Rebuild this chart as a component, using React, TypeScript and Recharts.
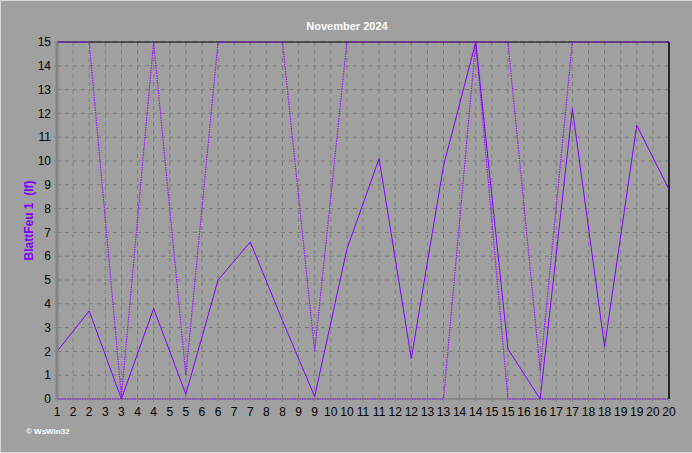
import { LineChart, Line, XAxis, YAxis, CartesianGrid, ReferenceLine } from 'recharts'

const days = [1, 2, 3, 4, 5, 6, 7, 8, 9, 10, 11, 12, 13, 14, 15, 16, 17, 18, 19, 20]
const leafWet = [2.0, 3.7, 0.0, 3.8, 0.2, 5.0, 6.6, 3.3, 0.1, 6.3, 10.1, 1.7, 9.8, 15.0, 2.1, 0.0, 12.2, 2.2, 11.5, 8.8]
const leafWetMax = [15, 15, 0.1, 15, 1.0, 15, 15, 15, 2.0, 15, 15, 15, 15, 15, 15, 1.2, 15, 15, 15, 15]
const leafWetMin = [0, 0, 0, 0, 0, 0, 0, 0, 0, 0, 0, 0, 0, 15, 0, 0, 0, 0, 0, 0]

const xTicks = [
  1, 1.5, 2, 2.5, 3, 3.5, 4, 4.5, 5, 5.5, 6, 6.5, 7, 7.5, 8, 8.5, 9, 9.5, 10, 10.5,
  11, 11.5, 12, 12.5, 13, 13.5, 14, 14.5, 15, 15.5, 16, 16.5, 17, 17.5, 18, 18.5, 19, 19.5, 20,
]
const yTicks = [0, 1, 2, 3, 4, 5, 6, 7, 8, 9, 10, 11, 12, 13, 14, 15]

const title = 'November 2024'
const yLabel = 'BlattFeu 1\u00a0\u00a0(lf)'

const rows = days.map((d, i) => ({
  day: d,
  wet: leafWet[i],
  max: leafWetMax[i],
  min: leafWetMin[i],
}))

const font = '"Liberation Sans", Arial, sans-serif'

export default function App() {
  return (
    <div
      style={{
        position: 'absolute',
        left: 0,
        top: 0,
        width: 692,
        height: 453,
        background: '#a0a0a0',
        boxSizing: 'border-box',
        borderTop: '1px solid #d8d8d8',
        borderLeft: '1px solid #d8d8d8',
        borderBottom: '1px solid #d8d8d8',
        fontFamily: font,
      }}
    >
      <div
        style={{
          position: 'absolute',
          left: 0,
          top: 19,
          width: 692,
          textAlign: 'center',
          color: '#ffffff',
          fontWeight: 'bold',
          fontSize: 11,
        }}
      >
        {title}
      </div>
      <div
        style={{
          position: 'absolute',
          left: 25,
          top: 426,
          color: '#ffffff',
          fontSize: 8,
          fontWeight: 'bold',
        }}
      >
        © WsWin32
      </div>
      <div style={{ position: 'absolute', left: -1, top: -1 }}>
        <LineChart
          width={692}
          height={453}
          data={rows}
          margin={{ top: 42, right: 23, bottom: 0, left: 0 }}
        >
          <CartesianGrid stroke="#7c7c7c" strokeDasharray="4 4" verticalValues={xTicks} horizontalValues={yTicks} />
          <XAxis
            type="number"
            dataKey="day"
            domain={[1, 20]}
            ticks={xTicks}
            interval={0}
            height={54}
            tickFormatter={(v: number) => String(Math.round(v))}
            axisLine={false}
            tickLine={{ stroke: '#848484' }}
            tickSize={3}
            tickMargin={5}
            tick={{ fill: '#000000', fontSize: 12, fontFamily: font }}
          />
          <YAxis
            type="number"
            domain={[0, 15]}
            ticks={yTicks}
            interval={0}
            width={57}
            axisLine={{ stroke: '#848484', strokeWidth: 3 }}
            tickLine={{ stroke: '#848484' }}
            tickSize={3}
            tickMargin={3}
            tick={{ fill: '#000000', fontSize: 12, fontFamily: font }}
            label={{
              value: yLabel,
              angle: -90,
              position: 'center',
              fill: '#8000ff',
              fontSize: 12,
              fontWeight: 'bold',
              fontFamily: font,
            }}
          />
          <ReferenceLine y={0} stroke="#888888" strokeWidth={2} />
          <ReferenceLine y={15} stroke="#000000" strokeWidth={1} />
          <ReferenceLine x={20} stroke="#000000" strokeWidth={1.5} />
          <Line
            type="linear"
            dataKey="max"
            stroke="#9a10ff"
            strokeWidth={1.2}
            strokeDasharray="1.5 1"
            dot={false}
            activeDot={false}
            isAnimationActive={false}
          />
          <Line
            type="linear"
            dataKey="min"
            stroke="#9a10ff"
            strokeWidth={1.2}
            strokeDasharray="1.5 1"
            dot={false}
            activeDot={false}
            isAnimationActive={false}
          />
          <Line
            type="linear"
            dataKey="wet"
            stroke="#8000ff"
            strokeWidth={1}
            dot={false}
            activeDot={false}
            isAnimationActive={false}
          />
        </LineChart>
      </div>
    </div>
  )
}
